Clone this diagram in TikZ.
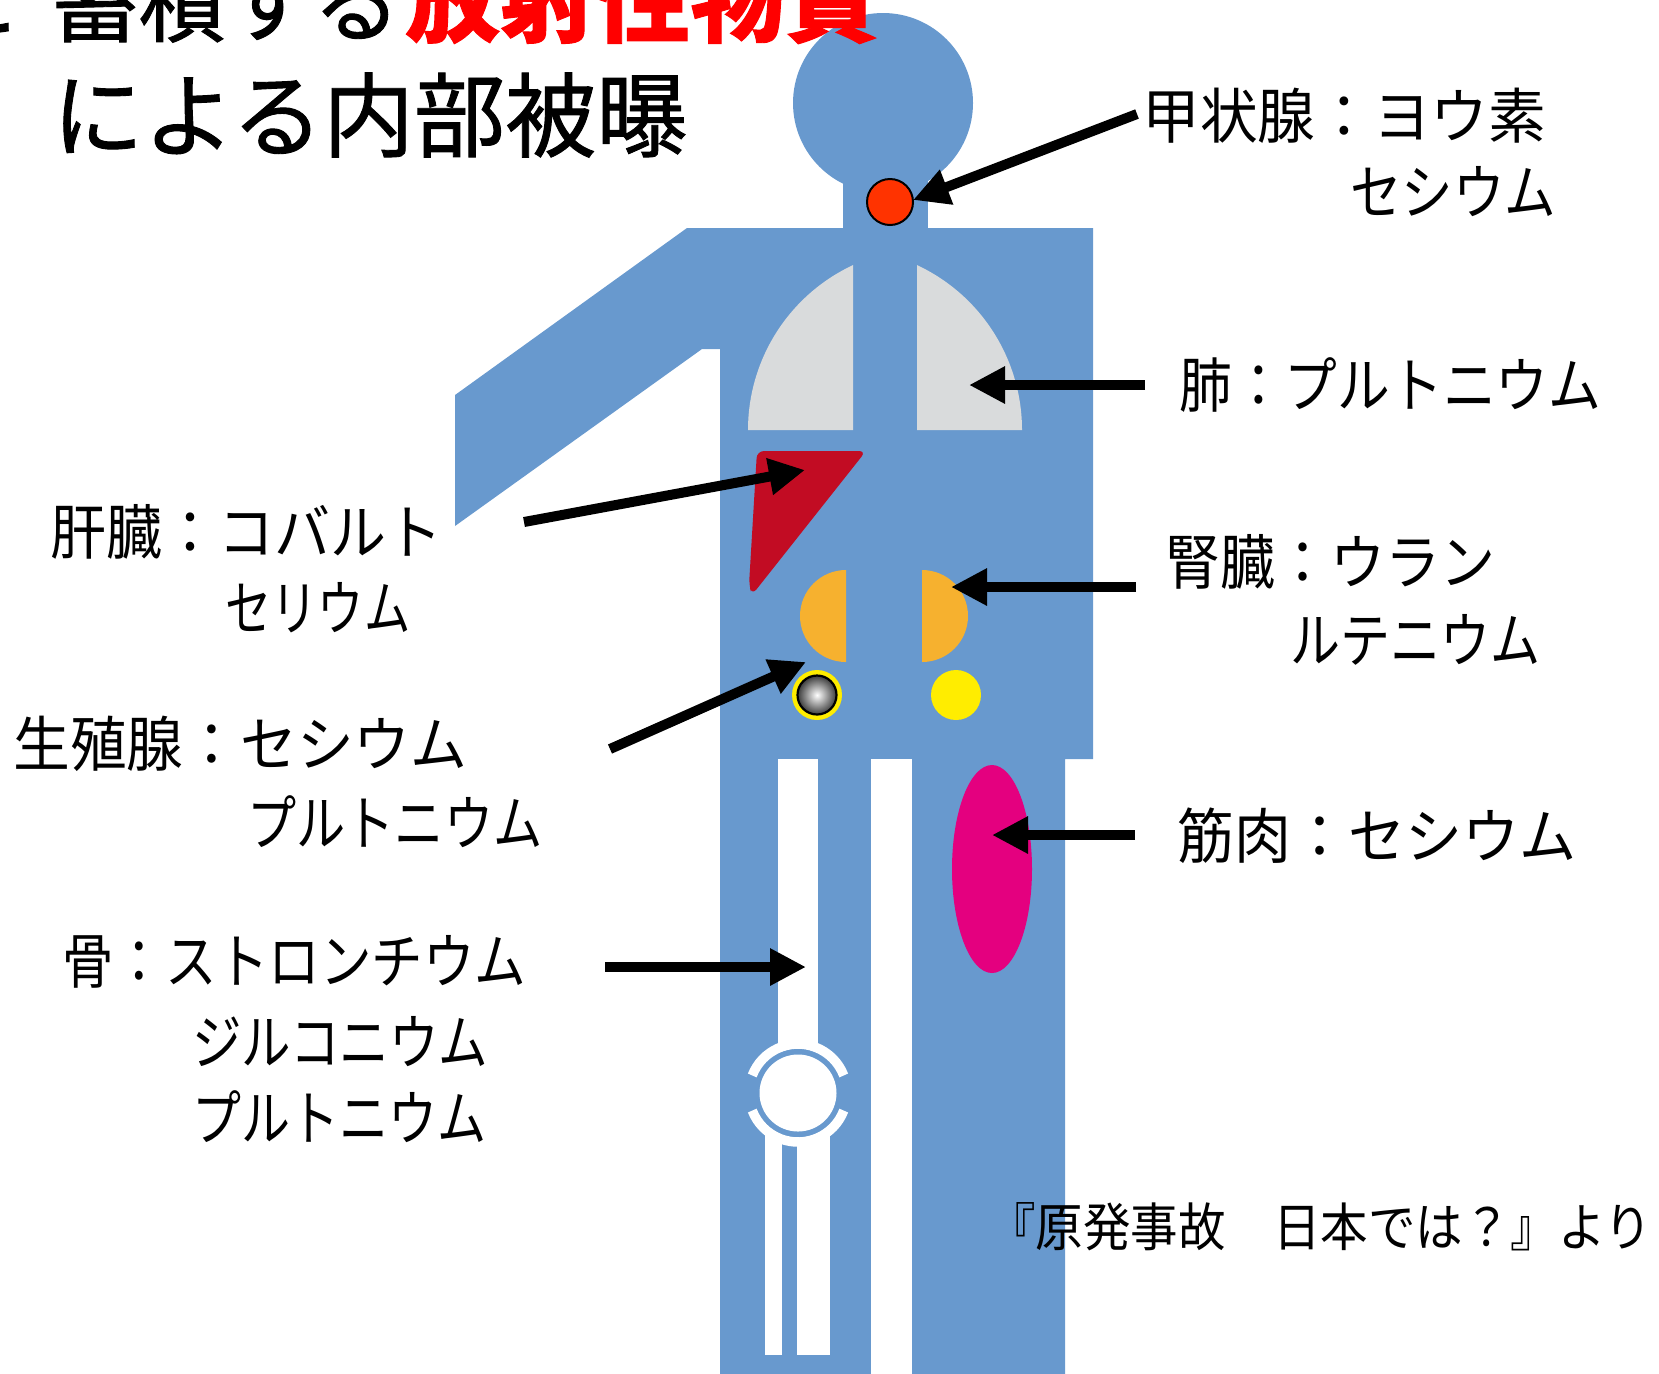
\documentclass[tikz,border=0pt]{standalone}
\usepackage{fontspec}
\usepackage{graphicx}
\usetikzlibrary{arrows.meta}
\newfontfamily\jp{Noto Sans CJK JP}
\newfontfamily\jpt[FakeBold=1]{Noto Sans CJK JP}
\definecolor{bodyblue}{RGB}{104,153,206}
\definecolor{lunggray}{RGB}{217,219,220}
\definecolor{liverred}{RGB}{194,12,35}
\definecolor{kidneyorange}{RGB}{246,177,47}
\definecolor{gonadyellow}{RGB}{255,237,0}
\definecolor{thyroidred}{RGB}{255,51,0}
\definecolor{musclepink}{RGB}{228,0,127}
\definecolor{titlered}{RGB}{255,0,0}
% squeeze a line of text to a given width (in px units of the picture)
\newlength\fitlen
\newcommand\fitw[2]{\setlength\fitlen{#1pt}\setlength\fitlen{0.5\fitlen}\resizebox{\fitlen}{\height}{#2}}
\tikzset{
  lbl/.style={anchor=west, inner sep=0pt, font=\jp\fontsize{30pt}{30pt}\selectfont},
  ttl/.style={anchor=west, inner sep=0pt, font=\jpt\fontsize{46pt}{46pt}\selectfont},
  cite/.style={anchor=west, inner sep=0pt, font=\jp\fontsize{26pt}{26pt}\selectfont},
  arr/.style={line width=5pt, -{Triangle[length=18pt,width=17.5pt]}},
}
\begin{document}
\begin{tikzpicture}[x=0.5pt,y=-0.5pt]
\useasboundingbox (0,0) rectangle (1659,1373);
\clip (0,0) rectangle (1659,1373);

% ---- body silhouette ----
\fill[bodyblue] (883,103) circle[radius=90];
\fill[bodyblue] (843,150) rectangle (928,232);
\fill[bodyblue] (687,228) -- (1093,228) -- (1093,759) -- (1065,759) -- (1065,1380)
  -- (720,1380) -- (720,349) -- (702,349) -- (455,526) -- (455,395) -- cycle;
% gap between the legs and the leg bones
\fill[white] (871,759) rectangle (912,1380);
\fill[white] (778,759) rectangle (818,1093);
\fill[white] (765,1093) rectangle (782,1355);
\fill[white] (797,1093) rectangle (830,1355);
% knee joint
\fill[bodyblue] (798,1093) circle[radius=44.5];
\draw[white, line width=4.75pt] (798,1093) ++(21:49) arc[start angle=21, end angle=159, radius=49];
\draw[white, line width=4.75pt] (798,1093) ++(201:49) arc[start angle=201, end angle=339, radius=49];
\fill[white] (798,1093) circle[radius=38.5];

% ---- organs ----
\fill[lunggray] (853,265) -- (853,430) -- (748,430) arc[start angle=180, end angle=245, radius=182] -- cycle;
\fill[lunggray] (917,265) -- (917,430) -- (1022,430) arc[start angle=0, end angle=-65, radius=182] -- cycle;
\fill[liverred, rounded corners=3.5pt] (757,451) -- (866,451) -- (752,595) -- (749,585) -- cycle;
\fill[kidneyorange] (846,570) arc[start angle=-90, end angle=-270, radius=46] -- cycle;
\fill[kidneyorange] (922,570) arc[start angle=-90, end angle=90, radius=46] -- cycle;
\fill[gonadyellow] (817,695) circle[radius=25];
\shade[inner color=white, outer color=black!75] (817,695) circle[radius=19];
\draw[black, line width=1.1pt] (817,695) circle[radius=19.5];
\fill[gonadyellow] (956,695) circle[radius=25];
\filldraw[fill=thyroidred, draw=black, line width=1pt] (890,202) circle[radius=23];
\fill[musclepink] (992,869) ellipse[x radius=40, y radius=104];

% ---- title ----
\node[ttl, anchor=east] (ttl0) at (18,0) {に};
\node[ttl] (ttl1) at (51,0) {\fitw{349}{蓄積する}};
\node[ttl, text=titlered] (ttl2) at (405,0) {\fitw{474}{\bfseries 放射性物質}};
\node[ttl] (ttl3) at (52,115) {\fitw{635}{による内部被曝}};

% ---- labels ----
\node[lbl] (thy1) at (1142,116) {\fitw{404}{甲状腺：ヨウ素}};
\node[lbl] (thy2) at (1350,192) {\fitw{206}{セシウム}};
\node[lbl] (lung) at (1179,385) {\fitw{422}{肺：プルトニウム}};
\node[lbl] (kid1) at (1165,562) {\fitw{330}{腎臓：ウラン}};
\node[lbl] (kid2) at (1290,640) {\fitw{250}{ルテニウム}};
\node[lbl] (liv1) at (50,532) {\fitw{392}{肝臓：コバルト}};
\node[lbl] (liv2) at (225,608) {\fitw{185}{セリウム}};
\node[lbl] (gon1) at (13,744) {\fitw{454}{生殖腺：セシウム}};
\node[lbl] (gon2) at (247,822) {\fitw{295}{プルトニウム}};
\node[lbl] (mus) at (1177,836) {\fitw{399}{筋肉：セシウム}};
\node[lbl] (bon1) at (62,962) {\fitw{464}{骨：ストロンチウム}};
\node[lbl] (bon2) at (192,1042) {\fitw{296}{ジルコニウム}};
\node[lbl] (bon3) at (192,1117) {\fitw{294}{プルトニウム}};
\node[cite] (src) at (988,1227) {\fitw{664}{『原発事故　日本では？』より}};

% ---- arrows ----
\coordinate (thyTail) at (1137,114);  \coordinate (thyTip) at (913,200);
\coordinate (lungTail) at (1145,385); \coordinate (lungTip) at (969,385);
\coordinate (kidTail) at (1136,587);  \coordinate (kidTip) at (951,587);
\coordinate (musTail) at (1135,835);  \coordinate (musTip) at (992,835);
\coordinate (livTail) at (524,522);   \coordinate (livTip) at (805,470);
\coordinate (gonTail) at (610,749);   \coordinate (gonTip) at (806,662);
\coordinate (bonTail) at (605,967);   \coordinate (bonTip) at (806,967);
\draw[arr] (thyTail) -- (thyTip);
\draw[arr] (lungTail) -- (lungTip);
\draw[arr] (kidTail) -- (kidTip);
\draw[arr] (musTail) -- (musTip);
\draw[arr] (livTail) -- (livTip);
\draw[arr] (gonTail) -- (gonTip);
\draw[arr] (bonTail) -- (bonTip);
\end{tikzpicture}
\end{document}
